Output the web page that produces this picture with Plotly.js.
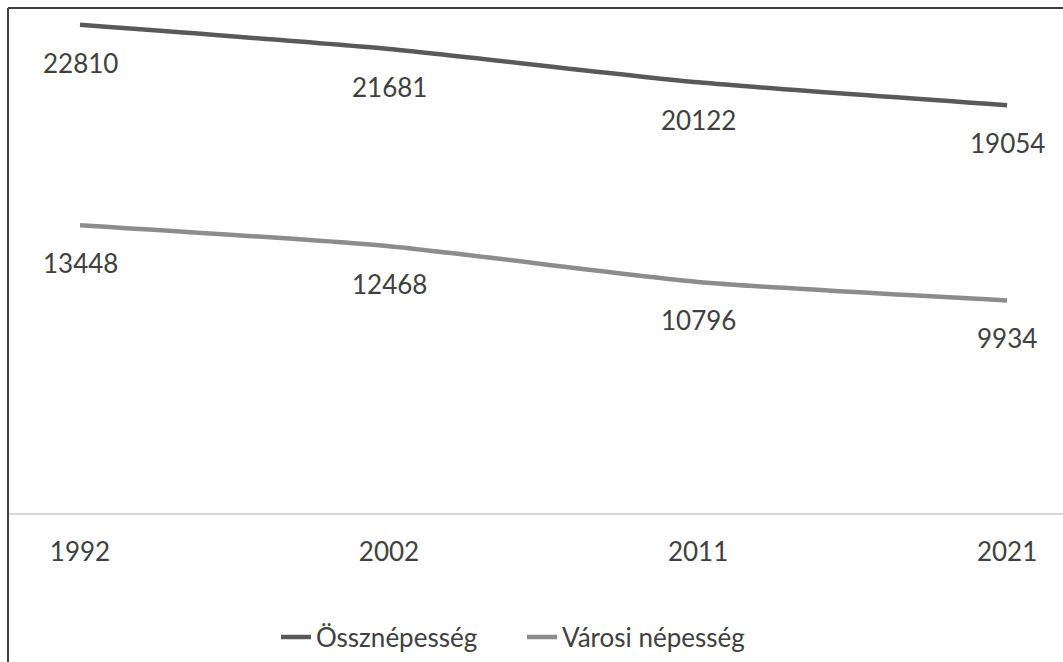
<!DOCTYPE html>
<html>
<head>
<meta charset="utf-8">
<script src="https://cdn.plot.ly/plotly-3.0.1.min.js"></script>
<style>
html,body{margin:0;padding:0;background:#fff;}
#chart{width:1063px;height:662px;}
</style>
</head>
<body>
<div id="chart"></div>
<script>
var years = ["1992", "2002", "2011", "2021"];
var osszNepesseg = [22810, 21681, 20122, 19054];
var varosiNepesseg = [13448, 12468, 10796, 9934];
var seriesNames = ["Össznépesség", "Városi népesség"];

var darkColor = "#595959";
var lightColor = "#8c8c8c";
var textColor = "#404040";
var fontFamily = "Lato, 'Open Sans', sans-serif";

var traces = [
  {x: years, y: osszNepesseg, name: seriesNames[0], type: "scatter", mode: "lines", legend: "legend",
   line: {color: darkColor, width: 4.5, shape: "spline", smoothing: 0.6}, cliponaxis: false},
  {x: years, y: varosiNepesseg, name: seriesNames[1], type: "scatter", mode: "lines", legend: "legend2",
   line: {color: lightColor, width: 4.5, shape: "spline", smoothing: 0.6}, cliponaxis: false}
];

var annotations = [];
[osszNepesseg, varosiNepesseg].forEach(function(arr){
  arr.forEach(function(v, i){
    annotations.push({x: i, y: v, xref: "x", yref: "y", text: String(v),
      showarrow: false, yanchor: "middle", xanchor: "center", yshift: -38,
      font: {family: fontFamily, size: 26, color: textColor}});
  });
});

function px2paper(p){ return (p - 8) / 1055; }
var legendFont = {family: fontFamily, size: 26, color: textColor};

var layout = {
  width: 1063, height: 662,
  margin: {l: 8, r: 0, t: 9, b: 149},
  paper_bgcolor: "#ffffff", plot_bgcolor: "#ffffff",
  font: {family: fontFamily, size: 26, color: textColor},
  showlegend: true,
  legend: {orientation: "h", x: px2paper(276), xanchor: "left", y: -0.246, yanchor: "middle",
           font: legendFont, itemwidth: 30, bgcolor: "rgba(0,0,0,0)"},
  legend2: {orientation: "h", x: px2paper(522), xanchor: "left", y: -0.246, yanchor: "middle",
           font: legendFont, itemwidth: 30, bgcolor: "rgba(0,0,0,0)"},
  xaxis: {type: "category", range: [-0.233, 3.181], showgrid: false, zeroline: false,
          showline: true, linecolor: "#d9d9d9", linewidth: 1.5, ticks: "",
          ticklabelstandoff: 15, tickfont: {family: fontFamily, size: 26, color: textColor}},
  yaxis: {range: [0, 23550], visible: false, showgrid: false, zeroline: false},
  annotations: annotations,
  shapes: [
    {type: "line", xref: "paper", yref: "paper", x0: 0, x1: 0, y0: 1.002, y1: -0.3,
     line: {color: "#404040", width: 2}},
    {type: "line", xref: "paper", yref: "paper", x0: 0, x1: 1, y0: 1.002, y1: 1.002,
     line: {color: "#404040", width: 2}}
  ]
};

Plotly.newPlot("chart", traces, layout, {displayModeBar: false, staticPlot: true});
</script>
</body>
</html>
